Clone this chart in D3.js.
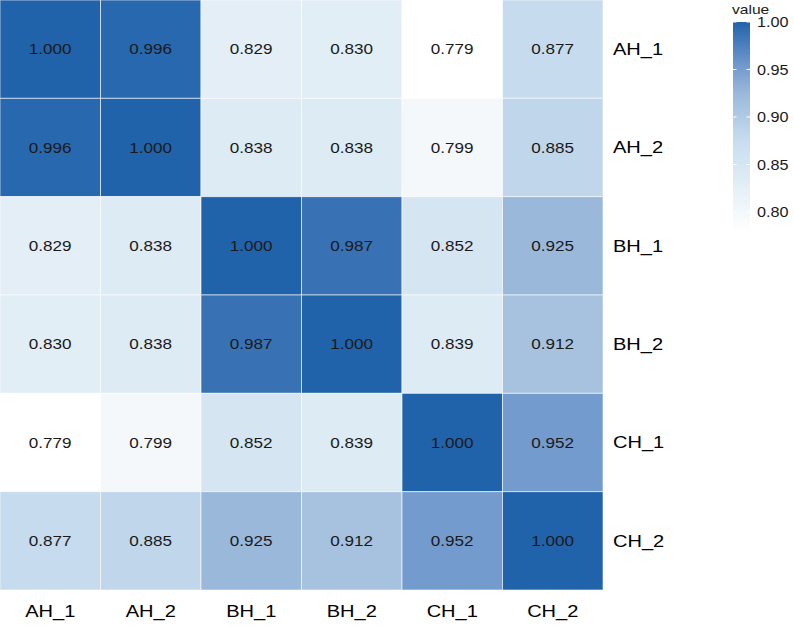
<!DOCTYPE html>
<html>
<head>
<meta charset="utf-8">
<script src="https://cdn.jsdelivr.net/npm/d3@7"></script>
<style>
  body { margin: 0; background: #fff; }
  text { font-family: "Liberation Sans", Arial, sans-serif; }
</style>
</head>
<body>
<div id="chart"></div>
<script>
// Samples (rows top to bottom, columns left to right)
const samples = ["AH_1", "AH_2", "BH_1", "BH_2", "CH_1", "CH_2"];

// correlation matrix, one row per sample
const rowAH1 = [1.000, 0.996, 0.829, 0.830, 0.779, 0.877];
const rowAH2 = [0.996, 1.000, 0.838, 0.838, 0.799, 0.885];
const rowBH1 = [0.829, 0.838, 1.000, 0.987, 0.852, 0.925];
const rowBH2 = [0.830, 0.838, 0.987, 1.000, 0.839, 0.912];
const rowCH1 = [0.779, 0.799, 0.852, 0.839, 1.000, 0.952];
const rowCH2 = [0.877, 0.885, 0.925, 0.912, 0.952, 1.000];
const matrix = [rowAH1, rowAH2, rowBH1, rowBH2, rowCH1, rowCH2];

const legendTicks = [0.80, 0.85, 0.90, 0.95, 1.00];

const width = 794, height = 636;
const svg = d3.select("#chart").append("svg")
  .attr("width", width)
  .attr("height", height);

// flatten to cells
const cells = [];
matrix.forEach((row, i) => {
  row.forEach((v, j) => cells.push({ row: samples[i], col: samples[j], value: v }));
});

const minVal = d3.min(cells, d => d.value);
const maxVal = d3.max(cells, d => d.value);

const x = d3.scaleBand().domain(samples).range([0, 603]);
const y = d3.scaleBand().domain(samples).range([0, 590]);

// colour ramp
const colorStops = ["#ffffff", "#e2eef6", "#c6dcee", "#9ab8da", "#7098cb", "#2163ab"];
const stopVals = [minVal, 0.83, 0.877, 0.925, 0.955, maxVal];
const color = d3.scaleLinear()
  .domain(stopVals)
  .range(colorStops)
  .interpolate(d3.interpolateRgb);

// the original text is a bit wider than Liberation Sans, stretch it
function place(sel, fx, fy, sx) {
  sel.attr("transform", d => `translate(${fx(d)},${fy(d)}) scale(${sx},1)`);
}

// cells
svg.append("g")
  .selectAll("rect")
  .data(cells)
  .join("rect")
  .attr("x", d => x(d.col))
  .attr("y", d => y(d.row))
  .attr("width", x.bandwidth())
  .attr("height", y.bandwidth())
  .attr("fill", d => color(d.value))
  .attr("stroke", "rgba(255,255,255,0.6)")
  .attr("stroke-width", 1);

// cell values
svg.append("g")
  .selectAll("text")
  .data(cells)
  .join("text")
  .call(place, d => x(d.col) + x.bandwidth() / 2, d => y(d.row) + y.bandwidth() / 2, 1.14)
  .attr("dy", "0.35em")
  .attr("text-anchor", "middle")
  .attr("font-size", 15)
  .attr("fill", "#1a1a1a")
  .text(d => d.value.toFixed(3));

// bottom labels
svg.append("g")
  .selectAll("text")
  .data(samples)
  .join("text")
  .call(place, d => x(d) + x.bandwidth() / 2, () => 617, 1.18)
  .attr("text-anchor", "middle")
  .attr("font-size", 17)
  .attr("fill", "#000")
  .text(d => d);

// right labels
svg.append("g")
  .selectAll("text")
  .data(samples)
  .join("text")
  .call(place, () => 613, d => y(d) + y.bandwidth() / 2, 1.18)
  .attr("dy", "0.35em")
  .attr("font-size", 17)
  .attr("fill", "#000")
  .text(d => d);

// legend colour bar
const legX = 733, legW = 17;
const ly = d3.scaleLinear().domain([minVal, maxVal]).range([232, 22]);

const defs = svg.append("defs");
const grad = defs.append("linearGradient")
  .attr("id", "legend-grad")
  .attr("x1", 0).attr("y1", 1).attr("x2", 0).attr("y2", 0);
d3.range(0, 1.0001, 0.05).forEach(t => {
  const v = minVal + t * (maxVal - minVal);
  grad.append("stop").attr("offset", t).attr("stop-color", color(v));
});

svg.append("rect")
  .attr("x", legX)
  .attr("y", ly(maxVal))
  .attr("width", legW)
  .attr("height", ly(minVal) - ly(maxVal))
  .attr("fill", "url(#legend-grad)");

// tick marks on the bar
const tickG = svg.append("g");
legendTicks.forEach(t => {
  tickG.append("line")
    .attr("x1", legX).attr("x2", legX + 3.5)
    .attr("y1", ly(t)).attr("y2", ly(t))
    .attr("stroke", "#fff").attr("stroke-width", 1);
  tickG.append("line")
    .attr("x1", legX + legW - 3.5).attr("x2", legX + legW)
    .attr("y1", ly(t)).attr("y2", ly(t))
    .attr("stroke", "#fff").attr("stroke-width", 1);
});

svg.append("g")
  .selectAll("text")
  .data(legendTicks)
  .join("text")
  .call(place, () => legX + legW + 7, d => ly(d), 1.08)
  .attr("dy", "0.35em")
  .attr("font-size", 15)
  .attr("fill", "#1a1a1a")
  .text(d => d.toFixed(2));

svg.append("text")
  .call(place, () => legX - 1, () => 14, 1.2)
  .attr("font-size", 13)
  .attr("fill", "#1a1a1a")
  .text("value");
</script>
</body>
</html>
